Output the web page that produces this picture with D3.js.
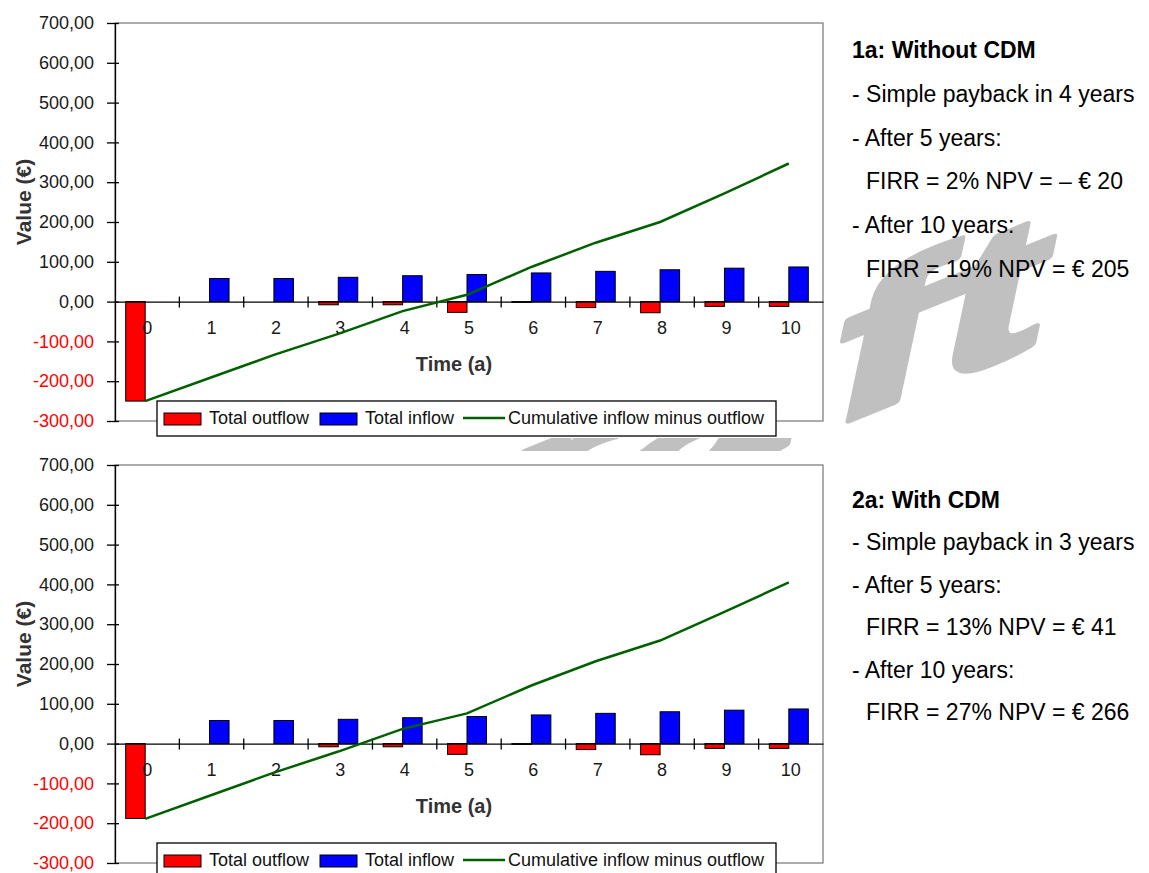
<!DOCTYPE html>
<html><head><meta charset="utf-8">
<script src="https://cdn.jsdelivr.net/npm/d3@7"></script>
<style>
body{margin:0;background:#fff;}
svg{display:block;font-family:Arial,"Liberation Sans",sans-serif;}
</style>
</head><body>
<svg id="c" width="1149" height="873"></svg>
<script>
// ---------- data ----------
const years = [0,1,2,3,4,5,6,7,8,9,10];
const inflow = [0, 58, 58, 61, 65, 68, 72, 76, 80, 84, 87];
const outflowWithout = [-250, 0, 0, -8, -8, -27, -2, -15, -28, -12, -12];
const cumulativeWithout = [-250, -192, -134, -81, -24, 17, 87, 148, 200, 272, 347];
const outflowWith = [-188, 0, 0, -8, -8, -27, -2, -15, -28, -12, -12];
const cumulativeWith = [-189, -131, -73, -20, 37, 76, 146, 207, 259, 331, 405];
const yTicks = [-300,-200,-100,0,100,200,300,400,500,600,700];
const seriesNames = ["Total outflow","Total inflow","Cumulative inflow minus outflow"];
const notesWithout = ["1a: Without CDM","- Simple payback in 4 years","- After 5 years:","FIRR = 2% NPV = \u2013 \u20ac 20","- After 10 years:","FIRR = 19% NPV = \u20ac 205"];
const notesWith = ["2a: With CDM","- Simple payback in 3 years","- After 5 years:","FIRR = 13% NPV = \u20ac 41","- After 10 years:","FIRR = 27% NPV = \u20ac 266"];
const xTitle = "Time (a)";
const yTitle = "Value (\u20ac)";
const watermarkParts = ["Dra","ft"];

const colors = {out:"#ff0000", in:"#0000ff", cum:"#006000"};
const fmt = d3.formatLocale({decimal:",", thousands:".", grouping:[3], currency:["","\u20ac"], minus:"-"}).format(".2f");

const svg = d3.select("#c");

// watermark (behind chart backgrounds)
const wm = svg.append("text")
  .attr("transform","matrix(3.2,-1.3,-0.44,2.07,249,664)")
  .attr("font-size",100).attr("font-weight","bold")
  .attr("fill","#c0c0c0").attr("stroke","#c0c0c0").attr("stroke-width",3.5).attr("stroke-linejoin","round");
wm.append("tspan").text(watermarkParts[0]);
wm.append("tspan").attr("dx",12).text(watermarkParts[1]);

function drawChart(top, outflow, cumulative, notes, noteBase, noteStep, bgTop, bgBottom) {
  const left = 115, right = 823, bottom = top + 398;
  const g = svg.append("g");
  g.append("rect").attr("x",0).attr("y",bgTop).attr("width",right+1).attr("height",bgBottom-bgTop).attr("fill","#fff");

  const x = d3.scaleBand().domain(years).range([left,right]);
  const y = d3.scaleLinear().domain([-300,700]).range([bottom,top]);
  const bw = x.bandwidth();
  const barW = 19.5;
  const gc = d => x(d) + bw/2 - 2;

  // frame
  g.append("rect").attr("x",left).attr("y",top).attr("width",right-left).attr("height",bottom-top)
    .attr("fill","none").attr("stroke","#808080").attr("stroke-width",1.3);

  // bars
  const outData = years.map((d,i)=>({year:d, v:outflow[i]})).filter(d=>d.v!==0);
  const inData = years.map((d,i)=>({year:d, v:inflow[i]})).filter(d=>d.v!==0);
  g.selectAll(".bo").data(outData).join("rect")
    .attr("x",d=>gc(d.year)-barW).attr("width",barW)
    .attr("y",d=>y(Math.max(0,d.v))).attr("height",d=>Math.abs(y(d.v)-y(0)))
    .attr("fill",colors.out).attr("stroke","#000").attr("stroke-width",1);
  g.selectAll(".bi").data(inData).join("rect")
    .attr("x",d=>gc(d.year)).attr("width",barW)
    .attr("y",d=>y(Math.max(0,d.v))).attr("height",d=>Math.abs(y(d.v)-y(0)))
    .attr("fill",colors.in).attr("stroke","#000").attr("stroke-width",1);

  // y axis
  const ya = g.append("g").attr("transform",`translate(${left},0)`)
    .call(d3.axisLeft(y).tickValues(yTicks).tickFormat(fmt).tickSize(8).tickSizeOuter(0).tickPadding(13));
  ya.select(".domain").attr("stroke","#000").attr("stroke-width",1.3);
  ya.selectAll(".tick line").attr("x1",4).attr("stroke","#000").attr("stroke-width",1.3);
  ya.selectAll(".tick text").attr("font-size",18).attr("font-family","Arial, 'Liberation Sans', sans-serif")
    .attr("fill",d=>d<0?"#ff0000":"#1a1a1a");

  // x axis at zero
  const xa = g.append("g").attr("transform",`translate(0,${y(0)})`)
    .call(d3.axisBottom(x).tickSize(0).tickSizeOuter(0).tickPadding(20));
  xa.select(".domain").attr("stroke","#000").attr("stroke-width",1.3);
  xa.selectAll(".tick text").attr("font-size",18).attr("font-family","Arial, 'Liberation Sans', sans-serif").attr("fill","#1a1a1a");
  g.selectAll(".xt").data(years.slice(1)).join("line")
    .attr("x1",d=>x(d)).attr("x2",d=>x(d)).attr("y1",y(0)-5).attr("y2",y(0)+6)
    .attr("stroke","#000").attr("stroke-width",1.3);

  // cumulative line
  g.append("path").datum(years.map((d,i)=>[gc(d), y(cumulative[i])]))
    .attr("d",d3.line()).attr("fill","none").attr("stroke",colors.cum).attr("stroke-width",2.5);

  // titles
  g.append("text").attr("x",454).attr("y",y(0)+69).attr("text-anchor","middle")
    .attr("font-size",20).attr("font-weight","bold").attr("fill","#333").text(xTitle);
  g.append("text").attr("transform",`translate(31,${top+179}) rotate(-90)`).attr("text-anchor","middle")
    .attr("font-size",21).attr("font-weight","bold").attr("fill","#333").text(yTitle);

  // legend
  const lg = g.append("g").attr("transform",`translate(${left+42},${bottom-20})`);
  lg.append("rect").attr("width",619).attr("height",35).attr("fill","#fff").attr("stroke","#000").attr("stroke-width",1.3);
  lg.append("rect").attr("x",7).attr("y",12).attr("width",37).attr("height",12).attr("fill",colors.out).attr("stroke","#000");
  lg.append("text").attr("x",52).attr("y",23).attr("font-size",18).attr("fill","#111").text(seriesNames[0]);
  lg.append("rect").attr("x",163).attr("y",12).attr("width",37).attr("height",12).attr("fill",colors.in).attr("stroke","#000");
  lg.append("text").attr("x",208).attr("y",23).attr("font-size",18).attr("fill","#111").text(seriesNames[1]);
  lg.append("line").attr("x1",306).attr("x2",348).attr("y1",17).attr("y2",17).attr("stroke",colors.cum).attr("stroke-width",2.5);
  lg.append("text").attr("x",351).attr("y",23).attr("font-size",18).attr("fill","#111").text(seriesNames[2]);

  // notes
  svg.append("g").selectAll("text").data(notes).join("text")
    .attr("x",(d,i)=> (i===3||i===5) ? 866 : 852)
    .attr("y",(d,i)=>noteBase + i*noteStep)
    .attr("font-size",23)
    .attr("font-weight",(d,i)=> i===0 ? "bold" : "normal")
    .attr("fill","#000")
    .text(d=>d);
}

drawChart(23, outflowWithout, cumulativeWithout, notesWithout, 58, 43.8, 0, 438);
drawChart(465, outflowWith, cumulativeWith, notesWith, 508, 42.4, 451, 873);
</script>
</body></html>
